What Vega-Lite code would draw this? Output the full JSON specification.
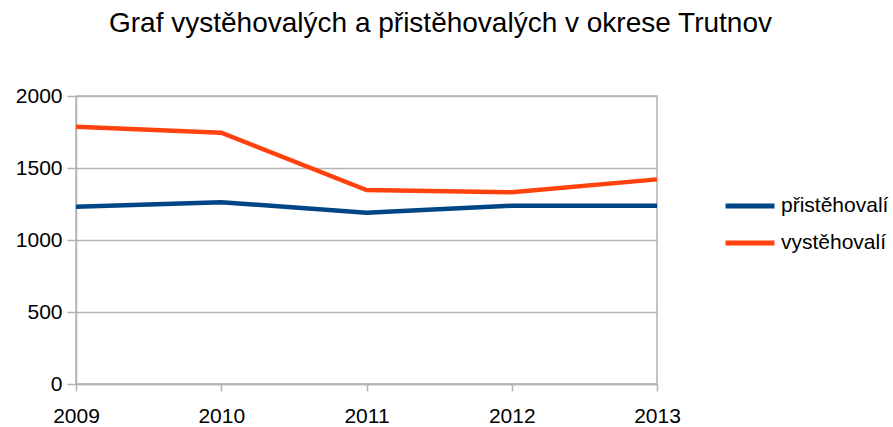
{
  "$schema": "https://vega.github.io/schema/vega-lite/v6.json",
  "autosize": {"type": "none"},
  "width": 581,
  "height": 288,
  "padding": {"left": 76, "top": 96, "right": 236, "bottom": 43},
  "background": "white",
  "config": {
    "font": "Liberation Sans",
    "view": {"stroke": "#b3b3b3", "strokeWidth": 1.5}
  },
  "title": {
    "text": "Graf vystěhovalých a přistěhovalých v okrese Trutnov",
    "font": "Liberation Sans",
    "fontSize": 28,
    "fontWeight": "normal",
    "color": "#000000",
    "anchor": "middle",
    "dx": 74,
    "offset": 47
  },
  "data": {
    "values": [
      {"rok": 2009, "skupina": "přistěhovalí", "pocet": 1231},
      {"rok": 2010, "skupina": "přistěhovalí", "pocet": 1262},
      {"rok": 2011, "skupina": "přistěhovalí", "pocet": 1190},
      {"rok": 2012, "skupina": "přistěhovalí", "pocet": 1238},
      {"rok": 2013, "skupina": "přistěhovalí", "pocet": 1238},
      {"rok": 2009, "skupina": "vystěhovalí", "pocet": 1787},
      {"rok": 2010, "skupina": "vystěhovalí", "pocet": 1745},
      {"rok": 2011, "skupina": "vystěhovalí", "pocet": 1347},
      {"rok": 2012, "skupina": "vystěhovalí", "pocet": 1331},
      {"rok": 2013, "skupina": "vystěhovalí", "pocet": 1421}
    ]
  },
  "mark": {"type": "line", "strokeWidth": 4.5},
  "encoding": {
    "x": {
      "field": "rok",
      "type": "quantitative",
      "scale": {"domain": [2009, 2013], "nice": false, "zero": false},
      "axis": {
        "title": null,
        "values": [2009, 2010, 2011, 2012, 2013],
        "format": "d",
        "grid": false,
        "domainColor": "#b3b3b3",
        "domainWidth": 1.5,
        "tickColor": "#b3b3b3",
        "tickWidth": 1.5,
        "tickSize": 7,
        "labelFontSize": 21,
        "labelColor": "#000000",
        "labelPadding": 14,
        "labelFlush": false
      }
    },
    "y": {
      "field": "pocet",
      "type": "quantitative",
      "scale": {"domain": [0, 2000], "nice": false},
      "axis": {
        "title": null,
        "values": [0, 500, 1000, 1500, 2000],
        "format": "d",
        "grid": true,
        "gridColor": "#b3b3b3",
        "gridWidth": 1.5,
        "domainColor": "#b3b3b3",
        "domainWidth": 1.5,
        "tickColor": "#b3b3b3",
        "tickWidth": 1.5,
        "tickSize": 9,
        "labelFontSize": 21,
        "labelColor": "#000000",
        "labelPadding": 5
      }
    },
    "color": {
      "field": "skupina",
      "type": "nominal",
      "scale": {"domain": ["přistěhovalí", "vystěhovalí"], "range": ["#004586", "#ff420e"]},
      "legend": {
        "title": null,
        "orient": "none",
        "legendX": 647,
        "legendY": 83,
        "symbolType": "stroke",
        "symbolSize": 2400,
        "symbolStrokeWidth": 5,
        "labelFontSize": 21,
        "labelColor": "#000000",
        "labelOffset": 4,
        "labelLimit": 200,
        "rowPadding": -15
      }
    }
  }
}
